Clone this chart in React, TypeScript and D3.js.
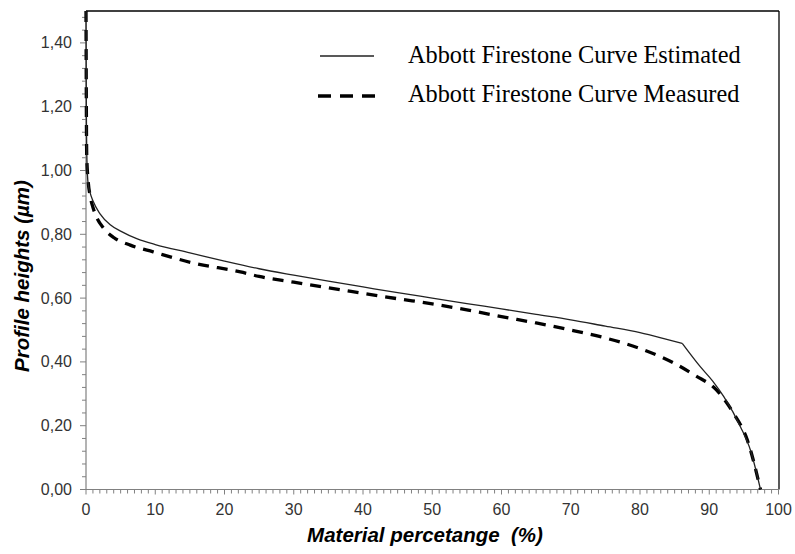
import React from "react";
import * as d3 from "d3";

const estX = [0, 0.05, 0.15, 0.3, 0.6, 1, 2, 3.5, 5, 7.5, 10, 15, 20, 25, 30, 35, 40, 45, 50, 55, 60, 65, 70, 75, 80, 84, 86.1];
const estY = [1.5, 1.2, 1.02, 0.96, 0.93, 0.905, 0.865, 0.83, 0.81, 0.785, 0.768, 0.742, 0.716, 0.692, 0.672, 0.653, 0.635, 0.617, 0.6, 0.583, 0.566, 0.549, 0.532, 0.512, 0.492, 0.47, 0.458];
const estTailX = [86.1, 88.7, 90.5, 92.1, 94.5, 96, 97.4];
const estTailY = [0.458, 0.385, 0.34, 0.291, 0.197, 0.12, 0.0];

const meaX = [0, 0.1, 0.3, 0.6, 1, 1.5, 2.5, 4, 6.4, 9.7, 15.5, 22.3, 25, 30, 35, 40, 45, 50, 55, 60, 65, 70, 75, 80, 83, 85, 88, 91, 93.5, 95.5, 97.4];
const meaY = [1.5, 1.05, 0.97, 0.92, 0.885, 0.855, 0.82, 0.79, 0.766, 0.745, 0.71, 0.682, 0.668, 0.65, 0.632, 0.615, 0.598, 0.582, 0.563, 0.542, 0.522, 0.5, 0.475, 0.442, 0.416, 0.395, 0.357, 0.313, 0.239, 0.155, 0.0];

const xTicks = [0, 10, 20, 30, 40, 50, 60, 70, 80, 90, 100];
const yTicks = [0, 0.2, 0.4, 0.6, 0.8, 1.0, 1.2, 1.4];
const legendLabels = ["Abbott Firestone Curve Estimated", "Abbott Firestone Curve Measured"];

const W = 795, H = 554;
const L = 86, R = 778.5, T = 11, B = 489.5;

export default function App() {
  const x = d3.scaleLinear().domain([0, 100]).range([L, R]);
  const y = d3.scaleLinear().domain([0, 1.5]).range([B, T]);
  const line = d3.line<[number, number]>().x(d => x(d[0])).y(d => y(d[1])).curve(d3.curveMonotoneX);
  const zip = (a: number[], b: number[]) => a.map((v, i) => [v, b[i]] as [number, number]);
  const est = line(zip(estX, estY)) || "";
  const estTail = line(zip(estTailX, estTailY)) || "";
  const mea = line(zip(meaX, meaY)) || "";
  const xMinor = d3.range(0, 101, 1);
  const yMinor = d3.range(0, 1.5001, 0.04);
  const fmt = (v: number) => v.toFixed(2).replace(".", ",");
  const tickFont = "'Liberation Sans', Arial, sans-serif";
  return (
    <svg width={W} height={H} style={{ position: "absolute", left: 0, top: 0, background: "#fff" }}>
      <rect x={0} y={0} width={W} height={H} fill="#fff" />
      <line x1={L} x2={R + 0.5} y1={T} y2={T} stroke="#000" strokeWidth={1.3} />
      <line x1={R + 0.5} x2={R + 0.5} y1={T} y2={B} stroke="#000" strokeWidth={1.3} />
      <line x1={L} x2={L} y1={T} y2={B} stroke="#808080" strokeWidth={1.2} />
      <line x1={L} x2={R + 0.5} y1={B} y2={B} stroke="#808080" strokeWidth={1.2} />
      {xMinor.map(v => (
        <line key={"xm" + v} x1={x(v)} x2={x(v)} y1={B} y2={B + (v % 10 === 0 ? 5 : 4)} stroke="#808080" strokeWidth={1} />
      ))}
      {yMinor.map((v, i) => (
        <line key={"ym" + i} x1={L - (i % 5 === 0 ? 6 : 4)} x2={L} y1={y(v)} y2={y(v)} stroke="#808080" strokeWidth={1} />
      ))}
      {xTicks.map(v => (
        <text key={"xt" + v} x={x(v)} y={515} textAnchor="middle" fontFamily={tickFont} fontSize={16} fill="#333">{v}</text>
      ))}
      {yTicks.map(v => (
        <text key={"yt" + v} x={72} y={y(v) + 5.5} textAnchor="end" fontFamily={tickFont} fontSize={16} fill="#333">{fmt(v)}</text>
      ))}
      <text x={425} y={542} textAnchor="middle" fontFamily={tickFont} fontSize={20.5} fontWeight="bold" fontStyle="italic" fill="#000" style={{ whiteSpace: "pre" }}>Material percetange  (%)</text>
      <text transform="translate(28.5,276) rotate(-90)" textAnchor="middle" fontFamily={tickFont} fontSize={20.5} fontWeight="bold" fontStyle="italic" fill="#000">Profile heights (µm)</text>
      <path d={mea} fill="none" stroke="#000" strokeWidth={3.3} strokeDasharray="11,8" />
      <path d={est} fill="none" stroke="#222" strokeWidth={1.3} />
      <path d={estTail} fill="none" stroke="#222" strokeWidth={1.3} />
      <line x1={320} x2={374} y1={56} y2={56} stroke="#222" strokeWidth={1.3} />
      <line x1={318} x2={378} y1={96} y2={96} stroke="#000" strokeWidth={3.3} strokeDasharray="13,9" />
      <text x={408} y={63} fontFamily="'Liberation Serif', 'Times New Roman', serif" fontSize={24.3} fill="#000">{legendLabels[0]}</text>
      <text x={408} y={102} fontFamily="'Liberation Serif', 'Times New Roman', serif" fontSize={24.3} fill="#000">{legendLabels[1]}</text>
    </svg>
  );
}
